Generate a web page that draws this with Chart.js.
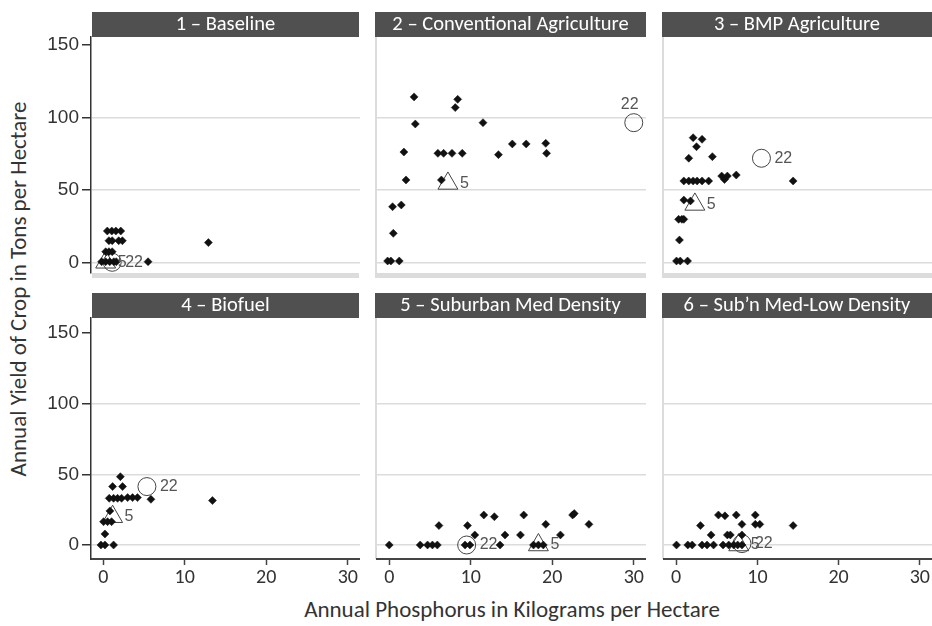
<!DOCTYPE html>
<html>
<head>
<meta charset="utf-8">
<script src="https://cdn.jsdelivr.net/npm/chart.js@4/dist/chart.umd.min.js"></script>
<style>
  html, body { margin: 0; padding: 0; background: #fff; }
  body { width: 932px; height: 626px; position: relative; overflow: hidden; font-family: Carlito, Lato, sans-serif; }
  canvas { position: absolute; }
  .axtitle { position: absolute; font-family: Carlito, Lato, sans-serif; font-size: 23px; color: #333; white-space: nowrap; }
</style>
</head>
<body>
<div class="axtitle" id="xt" style="left:512px; top:609px; transform:translate(-50%,-50%);">Annual Phosphorus in Kilograms per Hectare</div>
<div class="axtitle" id="yt" style="left:18px; top:289px; transform:translate(-50%,-50%) rotate(-90deg);">Annual Yield of Crop in Tons per Hectare</div>
<script>
// ---------- data ----------
const panelTitles = ["1 \u2013 Baseline", "2 \u2013 Conventional Agriculture", "3 \u2013 BMP Agriculture",
                     "4 \u2013 Biofuel", "5 \u2013 Suburban Med Density", "6 \u2013 Sub\u2019n Med-Low Density"];
const xTicks = [0, 10, 20, 30];
const yTicks = [0, 50, 100, 150];

// Annual phosphorus (kg/ha) and crop yield (t/ha) for each scenario
const p1Phos  = [0.5, 1.05, 1.55, 2.15, 0.7, 1.1, 1.9, 2.35, 0.3, 0.7, 1.1, -0.2, 0.3, 0.8, 1.3, 1.6, 5.5, 12.9];
const p1Yield = [21.6, 21.6, 21.6, 21.6, 14.9, 14.9, 14.9, 14.9, 7.3, 7.3, 7.3, 0.4, 0.4, 0.4, 0.4, 0.4, 0.4, 13.6];

const p2Phos  = [3.05, 3.2, 1.8, 2.06, 0.41, 1.48, 0.5, -0.2, 0.2, 1.23, 8.4, 8.1, 11.5, 5.97, 6.67, 7.7, 8.96, 6.4, 13.4, 15.1, 16.8, 19.2, 19.3];
const p2Yield = [114.3, 95.6, 76.2, 56.9, 38.4, 39.6, 20, 0.9, 0.9, 0.9, 112.6, 106.9, 96.5, 75.3, 75.3, 75.3, 75.3, 56.9, 74.4, 81.8, 81.8, 82.2, 75.3];

const p3Phos  = [2.09, 3.19, 2.5, 1.55, 4.46, 0.94, 1.55, 2.09, 2.58, 3.19, 4.0, 5.6, 6.3, 5.95, 7.4, 14.4, 0.94, 1.76, 0.3, 0.7, 0.94, 0.4, 0.04, 0.5, 1.4];
const p3Yield = [86.1, 85, 79.9, 71.9, 73, 56.2, 56.2, 56.2, 56.2, 56.2, 56.2, 59.6, 59.6, 57.2, 60.3, 56.2, 43, 42.4, 29.7, 29.7, 29.7, 15.4, 0.9, 0.9, 0.9];

const p4Phos  = [2.1, 1.15, 2.37, 0.74, 1.27, 1.76, 2.25, 2.99, 3.6, 4.2, 5.85, 13.4, 0.82, 0.04, 0.53, 1.02, 0.21, -0.28, 0.21, 1.27];
const p4Yield = [48.3, 41.3, 41.3, 33, 33, 33, 33, 33.5, 33.5, 33.5, 32.3, 31.4, 24.1, 16.5, 16.5, 16.5, 7.8, 0, 0, 0];

const p5Phos  = [0, 3.8, 4.7, 5.3, 5.9, 6.1, 9.6, 10.5, 11.6, 12.9, 9.3, 9.9, 13.6, 14.2, 16.1, 16.5, 17.7, 18.3, 18.9, 19.2, 21.0, 22.5, 22.7, 24.5];
const p5Yield = [0, 0, 0, 0, 0, 13.7, 13.7, 7.1, 21.2, 20, 0, 0, 0, 7.1, 7.1, 21.2, 0, 0, 0, 14.6, 7.1, 21.2, 22.2, 14.6];

const p6Phos  = [0.04, 1.43, 1.97, 3.19, 3.8, 4.6, 5.77, 6.47, 7.08, 7.57, 8.1, 2.99, 4.3, 5.2, 6.0, 6.3, 6.67, 7.4, 8.1, 8.1, 9.74, 9.74, 10.3, 14.4];
const p6Yield = [0, 0, 0, 0, 0, 0, 0, 0, 0, 0, 0, 13.7, 7.1, 21.2, 20.6, 7.1, 7.1, 21.2, 14.6, 7.1, 21.2, 14.6, 14.6, 13.7];

// highlighted sites 5 (triangle) and 22 (circle), one value per scenario
const site5Phos   = [0.3, 7.2, 2.3, 1.15, 18.3, 7.7];
const site5Yield  = [0, 54.5, 40, 20, 0, 0];
const site22Phos  = [1.1, 30.0, 10.5, 5.36, 9.5, 8.1];
const site22Yield = [0, 96.5, 71.9, 41.3, 0, 1];

const phosSets  = [p1Phos, p2Phos, p3Phos, p4Phos, p5Phos, p6Phos];
const yieldSets = [p1Yield, p2Yield, p3Yield, p4Yield, p5Yield, p6Yield];

// ---------- layout ----------
const colLeft   = [0, 375, 662];
const colWidth  = [360, 271, 270];
const yAxisW    = [91, 2, 2];
const rowTop    = [12, 293];
const rowHeight = [266, 300];
const xAxisH    = [5, 34];
const yRange    = [[-7.4, 155.7], [-9.9, 160.5]];
const label22Pos = ['right', 'top', 'right', 'right', 'right', 'right'];

const GRID = '#dcdcdc';
const HEADER = '#505050';
const FONT = 'Carlito, Lato, sans-serif';

const decorPlugin = {
  id: 'decor',
  beforeDraw(chart, args, opts) {
    const ctx = chart.ctx, a = chart.chartArea;
    ctx.save();
    const hl = opts.col === 0 ? a.left + 1 : a.left - 2;
    const hr = opts.col === 0 ? a.right - 1 : a.right;
    ctx.fillStyle = HEADER;
    ctx.fillRect(hl, 0, hr - hl, 25);
    ctx.fillStyle = '#ffffff';
    ctx.font = '20.5px ' + FONT;
    ctx.textAlign = 'center';
    ctx.textBaseline = 'middle';
    ctx.fillText(opts.title, (hl + hr) / 2, 13);
    if (opts.col !== 0) {
      ctx.fillStyle = GRID;
      ctx.fillRect(a.left - 2, a.top, 2, a.bottom - a.top);
    }
    if (opts.row === 0) {
      ctx.fillStyle = GRID;
      ctx.fillRect(hl, a.bottom, hr - hl, 5);
    }
    ctx.restore();
  },
  afterDatasetsDraw(chart, args, opts) {
    const ctx = chart.ctx;
    ctx.save();
    ctx.font = '16px "Liberation Sans", Arial, sans-serif';
    ctx.fillStyle = '#555';
    ctx.textBaseline = 'middle';
    const t = chart.getDatasetMeta(1).data[0];
    ctx.textAlign = 'left';
    ctx.fillText('5', t.x + 12, t.y);
    const c = chart.getDatasetMeta(2).data[0];
    if (opts.pos22 === 'top') {
      ctx.textAlign = 'center';
      ctx.fillText('22', c.x - 4, c.y - 18);
    } else {
      ctx.textAlign = 'left';
      ctx.fillText('22', c.x + 13, c.y);
    }
    ctx.restore();
  }
};

for (let i = 0; i < 6; i++) {
  const row = i < 3 ? 0 : 1, col = i % 3;
  const cv = document.createElement('canvas');
  cv.width = colWidth[col]; cv.height = rowHeight[row];
  cv.style.left = colLeft[col] + 'px'; cv.style.top = rowTop[row] + 'px';
  cv.style.width = colWidth[col] + 'px'; cv.style.height = rowHeight[row] + 'px';
  document.body.appendChild(cv);

  const pts = phosSets[i].map((x, k) => ({ x: x, y: yieldSets[i][k] }));

  new Chart(cv, {
    type: 'scatter',
    data: {
      datasets: [
        { data: pts, pointStyle: 'rectRot', pointRadius: 4, backgroundColor: '#111', borderColor: '#111', borderWidth: 0.5, clip: false },
        { data: [{ x: site5Phos[i], y: site5Yield[i] }], pointStyle: 'triangle', pointRadius: 11.5, backgroundColor: 'rgba(0,0,0,0)', borderColor: '#444', borderWidth: 1, clip: false },
        { data: [{ x: site22Phos[i], y: site22Yield[i] }], pointStyle: 'circle', pointRadius: 9, backgroundColor: 'rgba(0,0,0,0)', borderColor: '#444', borderWidth: 1, clip: false }
      ]
    },
    options: {
      responsive: false, animation: false, devicePixelRatio: 1,
      layout: { autoPadding: false, padding: { top: 25, left: 0, right: 0, bottom: 0 } },
      plugins: { legend: { display: false }, tooltip: { enabled: false }, title: { display: false },
                 decor: { title: panelTitles[i], row: row, col: col, pos22: label22Pos[i] } },
      scales: {
        x: {
          type: 'linear', min: -1.5, max: 31.5,
          afterBuildTicks: s => { s.ticks = xTicks.map(v => ({ value: v })); },
          afterFit: s => { s.height = xAxisH[row]; s.paddingLeft = 0; s.paddingRight = 0; },
          border: { display: row === 1, color: '#444', width: 2 },
          grid: { display: row === 1, drawOnChartArea: false, drawTicks: true, tickLength: 6, tickColor: '#444', tickWidth: 1.5 },
          ticks: { display: row === 1, color: '#333', font: { family: FONT, size: 20 }, padding: 1, maxRotation: 0, autoSkip: false }
        },
        y: {
          type: 'linear', min: yRange[row][0], max: yRange[row][1],
          afterBuildTicks: s => { s.ticks = yTicks.map(v => ({ value: v })); },
          afterFit: s => { s.width = yAxisW[col]; s.paddingTop = 0; s.paddingBottom = 0; },
          border: { display: col === 0, color: '#333', width: 1.5 },
          grid: {
            color: c => (c.tick && c.tick.value === 150) ? 'rgba(0,0,0,0)' : GRID,
            lineWidth: 1.5, drawTicks: col === 0, tickLength: 9, tickColor: '#333', tickWidth: 1.5
          },
          ticks: { display: col === 0, color: '#333', font: { family: '"Liberation Sans", Arial, sans-serif', size: 19 }, padding: 3, autoSkip: false }
        }
      }
    },
    plugins: [decorPlugin]
  });
}
</script>
</body>
</html>
